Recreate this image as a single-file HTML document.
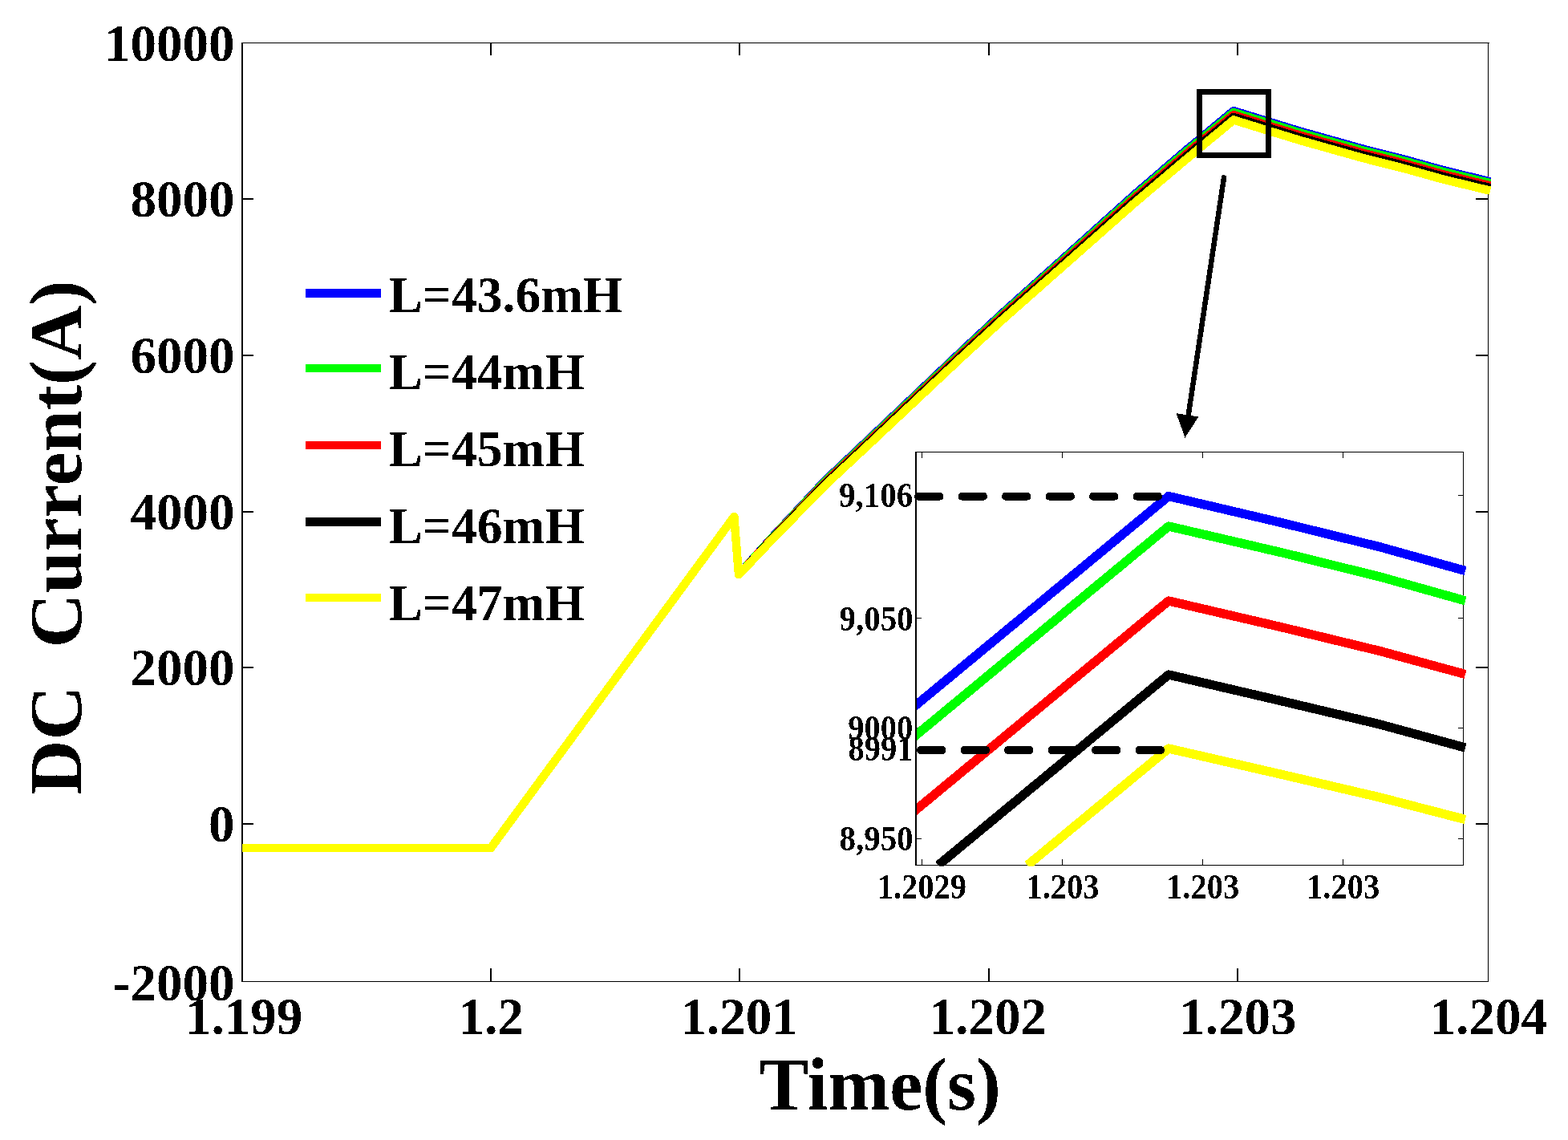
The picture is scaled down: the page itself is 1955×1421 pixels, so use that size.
<!DOCTYPE html>
<html><head><meta charset="utf-8"><title>DC Current vs Time</title>
<style>html,body{margin:0;padding:0;background:#fff;overflow:hidden}svg{display:block}</style>
</head><body>
<svg width="1955" height="1421" viewBox="0 0 1955 1421" shape-rendering="crispEdges" font-family="'Liberation Serif','Times New Roman',serif" font-weight="bold">
<defs>
<clipPath id="mainclip"><rect x="302" y="0" width="1600" height="1421"/></clipPath>
<filter id="bin" x="-5%" y="-5%" width="110%" height="110%"><feComponentTransfer><feFuncA type="discrete" tableValues="0 1"/></feComponentTransfer></filter>
<clipPath id="insclip"><rect x="1143" y="564" width="700" height="515.8"/></clipPath>
</defs>
<rect width="1955" height="1421" fill="#fff"/>
<rect x="301" y="53" width="2" height="1171" fill="#000"/>
<rect x="301" y="53" width="1556" height="1" fill="#000"/>
<rect x="1855" y="53" width="1" height="1171" fill="#000"/>
<rect x="301" y="1223" width="1555" height="1" fill="#000"/>
<rect x="303" y="247" width="13" height="2" fill="#000"/>
<rect x="1840" y="247" width="15" height="2" fill="#000"/>
<rect x="303" y="441.5" width="13" height="2" fill="#000"/>
<rect x="1840" y="441.5" width="15" height="2" fill="#000"/>
<rect x="303" y="636.5" width="13" height="2" fill="#000"/>
<rect x="1840" y="636.5" width="15" height="2" fill="#000"/>
<rect x="303" y="831" width="13" height="2" fill="#000"/>
<rect x="1840" y="831" width="15" height="2" fill="#000"/>
<rect x="303" y="1026" width="13" height="2" fill="#000"/>
<rect x="1840" y="1026" width="15" height="2" fill="#000"/>
<rect x="611" y="1207" width="2" height="16" fill="#000"/>
<rect x="611" y="54" width="2" height="15" fill="#000"/>
<rect x="921" y="1207" width="2" height="16" fill="#000"/>
<rect x="921" y="54" width="2" height="15" fill="#000"/>
<rect x="1232" y="1207" width="2" height="16" fill="#000"/>
<rect x="1232" y="54" width="2" height="15" fill="#000"/>
<rect x="1542" y="1207" width="2" height="16" fill="#000"/>
<rect x="1542" y="54" width="2" height="15" fill="#000"/>
<g fill="none" stroke-width="10.5" stroke-linejoin="round" stroke-linecap="butt" shape-rendering="crispEdges" clip-path="url(#mainclip)">
<polyline points="301.00,1057.00 612.00,1057.00 915.30,644.00 921.00,716.00 925.00,712.04 960.00,672.80 1029.00,598.79 1086.00,544.97 1200.00,436.73 1250.00,390.16 1414.50,242.55 1478.50,187.50 1538.00,138.10 1620.00,163.30 1700.00,185.80 1750.00,198.40 1800.00,212.30 1858.00,226.30" stroke="#0000ff"/>
<polyline points="301.00,1057.00 612.00,1057.00 915.30,644.00 921.00,716.00 925.00,712.09 960.00,673.22 1029.00,599.78 1086.00,546.06 1200.00,438.02 1250.00,391.55 1414.50,244.31 1478.50,189.40 1538.00,140.00 1620.00,165.20 1700.00,187.70 1750.00,200.30 1800.00,214.20 1858.00,228.20" stroke="#00ff00"/>
<polyline points="301.00,1057.00 612.00,1057.00 915.30,644.00 921.00,716.00 925.00,712.16 960.00,673.92 1029.00,601.44 1086.00,547.89 1200.00,440.21 1250.00,393.89 1414.50,247.27 1478.50,192.60 1538.00,143.20 1620.00,168.40 1700.00,190.90 1750.00,203.50 1800.00,217.40 1858.00,231.40" stroke="#ff0000"/>
<polyline points="301.00,1057.00 612.00,1057.00 915.30,644.00 921.00,716.00 925.00,712.22 960.00,674.53 1029.00,602.89 1086.00,549.50 1200.00,442.11 1250.00,395.94 1414.50,249.86 1478.50,195.40 1538.00,146.00 1620.00,171.20 1700.00,193.70 1750.00,206.30 1800.00,220.20 1858.00,234.20" stroke="#000000"/>
<polyline points="301.00,1057.00 612.00,1057.00 915.30,644.00 921.00,716.00 925.00,712.30 960.00,675.30 1029.00,604.70 1086.00,551.50 1200.00,444.50 1250.00,398.50 1414.50,253.10 1478.50,198.90 1538.00,149.50 1620.00,174.70 1700.00,197.20 1750.00,209.80 1800.00,223.70 1858.00,237.70" stroke="#ffff00"/>
</g>
<rect x="1495.5" y="114" width="86" height="79" fill="none" stroke="#000" stroke-width="7"/>
<line x1="1526" y1="221.5" x2="1481" y2="522" stroke="#000" stroke-width="6.5" stroke-linecap="round"/>
<polygon points="1466.6,515.2 1494.4,519.5 1477.5,545.6" fill="#000"/>
<rect x="381" y="360.20" width="94" height="10.6" fill="#0000ff"/>
<rect x="381" y="453.50" width="94" height="10.6" fill="#00ff00"/>
<rect x="381" y="549.60" width="94" height="10.6" fill="#ff0000"/>
<rect x="381" y="645.20" width="94" height="10.6" fill="#000000"/>
<rect x="381" y="739.60" width="94" height="10.6" fill="#ffff00"/>
<rect x="1142" y="563.5" width="683" height="514" fill="#fff"/>
<rect x="1141" y="563" width="2" height="516" fill="#000"/>
<rect x="1141" y="563" width="684" height="1" fill="#000"/>
<rect x="1824" y="563" width="1" height="516" fill="#000"/>
<rect x="1141" y="1078" width="684" height="1" fill="#000"/>
<rect x="1143" y="616.90" width="6" height="1.2" fill="#000"/>
<rect x="1818" y="616.90" width="6" height="1.2" fill="#000"/>
<rect x="1143" y="769.90" width="6" height="1.2" fill="#000"/>
<rect x="1818" y="769.90" width="6" height="1.2" fill="#000"/>
<rect x="1143" y="907.00" width="6" height="1.2" fill="#000"/>
<rect x="1818" y="907.00" width="6" height="1.2" fill="#000"/>
<rect x="1143" y="1044.60" width="6" height="1.2" fill="#000"/>
<rect x="1818" y="1044.60" width="6" height="1.2" fill="#000"/>
<rect x="1148.90" y="1071" width="1.2" height="7" fill="#000"/>
<rect x="1148.90" y="564" width="1.2" height="7" fill="#000"/>
<rect x="1324.20" y="1071" width="1.2" height="7" fill="#000"/>
<rect x="1324.20" y="564" width="1.2" height="7" fill="#000"/>
<rect x="1498.50" y="1071" width="1.2" height="7" fill="#000"/>
<rect x="1498.50" y="564" width="1.2" height="7" fill="#000"/>
<rect x="1674.00" y="1071" width="1.2" height="7" fill="#000"/>
<rect x="1674.00" y="564" width="1.2" height="7" fill="#000"/>
<g fill="none" stroke-width="11.3" stroke-linejoin="round" stroke-linecap="butt" shape-rendering="crispEdges" clip-path="url(#insclip)">
<polyline points="1100.00,913.74 1457.00,618.50 1600.00,652.10 1720.00,681.65 1827.00,711.50" stroke="#0000ff"/>
<polyline points="1100.00,951.24 1457.00,656.00 1600.00,689.25 1720.00,718.80 1827.00,748.80" stroke="#00ff00"/>
<polyline points="1100.00,1044.24 1457.00,749.00 1600.00,782.30 1720.00,811.40 1827.00,840.50" stroke="#ff0000"/>
<polyline points="1169.82,1078.50 1457.00,841.00 1600.00,874.30 1720.00,902.80 1827.00,932.00" stroke="#000000"/>
<polyline points="1281.06,1078.50 1457.00,933.00 1600.00,965.80 1720.00,993.80 1827.00,1021.50" stroke="#ffff00"/>
</g>
<g stroke="#000" stroke-width="10" stroke-linecap="round" stroke-dasharray="26.5 28" fill="none">
<line x1="1145" y1="618.7" x2="1450" y2="618.7"/>
<line x1="1148" y1="935" x2="1453" y2="935"/>
</g>
<g filter="url(#bin)">
<text x="484.51" y="388.90" font-size="63.5" >L=43.6mH</text>
<text x="484.51" y="484.50" font-size="63.5" >L=44mH</text>
<text x="484.51" y="580.50" font-size="63.5" >L=45mH</text>
<text x="484.51" y="676.60" font-size="63.5" >L=46mH</text>
<text x="484.51" y="772.90" font-size="63.5" >L=47mH</text>
<text x="129.98" y="75.90" font-size="65" >10000</text>
<text x="162.48" y="270.40" font-size="65" >8000</text>
<text x="162.48" y="464.90" font-size="65" >6000</text>
<text x="162.48" y="659.90" font-size="65" >4000</text>
<text x="162.48" y="854.40" font-size="65" >2000</text>
<text x="259.98" y="1049.40" font-size="65" >0</text>
<text x="140.83" y="1247.20" font-size="65" >-2000</text>
<text x="230.95" y="1289.10" font-size="65" >1.199</text>
<text x="571.67" y="1289.10" font-size="65" >1.2</text>
<text x="848.45" y="1289.10" font-size="65" >1.201</text>
<text x="1158.87" y="1289.10" font-size="65" >1.202</text>
<text x="1470.28" y="1289.10" font-size="65" >1.203</text>
<text x="1782.78" y="1289.10" font-size="65" >1.204</text>
<text x="946.45" y="1383.00" font-size="92.5" >Time(s)</text>
<text transform="translate(101,990.5) rotate(-90)" font-size="94.1" xml:space="preserve">DC  Current(A)</text>
<text transform="translate(1046.05,631.90) scale(1,1.07)" font-size="41">9,106</text>
<text transform="translate(1046.41,785.90) scale(1,1.07)" font-size="41">9,050</text>
<text transform="translate(1057.34,921.50) scale(1,1.07)" font-size="40.5">9000</text>
<text transform="translate(1057.60,948.20) scale(1,1.07)" font-size="40.5">8991</text>
<text transform="translate(1046.41,1059.70) scale(1,1.07)" font-size="41">8,950</text>
<text transform="translate(1093.72,1119.70) scale(1,1.07)" font-size="40.5">1.2029</text>
<text transform="translate(1279.41,1119.70) scale(1,1.07)" font-size="40.5">1.203</text>
<text transform="translate(1454.01,1119.70) scale(1,1.07)" font-size="40.5">1.203</text>
<text transform="translate(1629.01,1119.70) scale(1,1.07)" font-size="40.5">1.203</text>
</g>
</svg>
</body></html>
